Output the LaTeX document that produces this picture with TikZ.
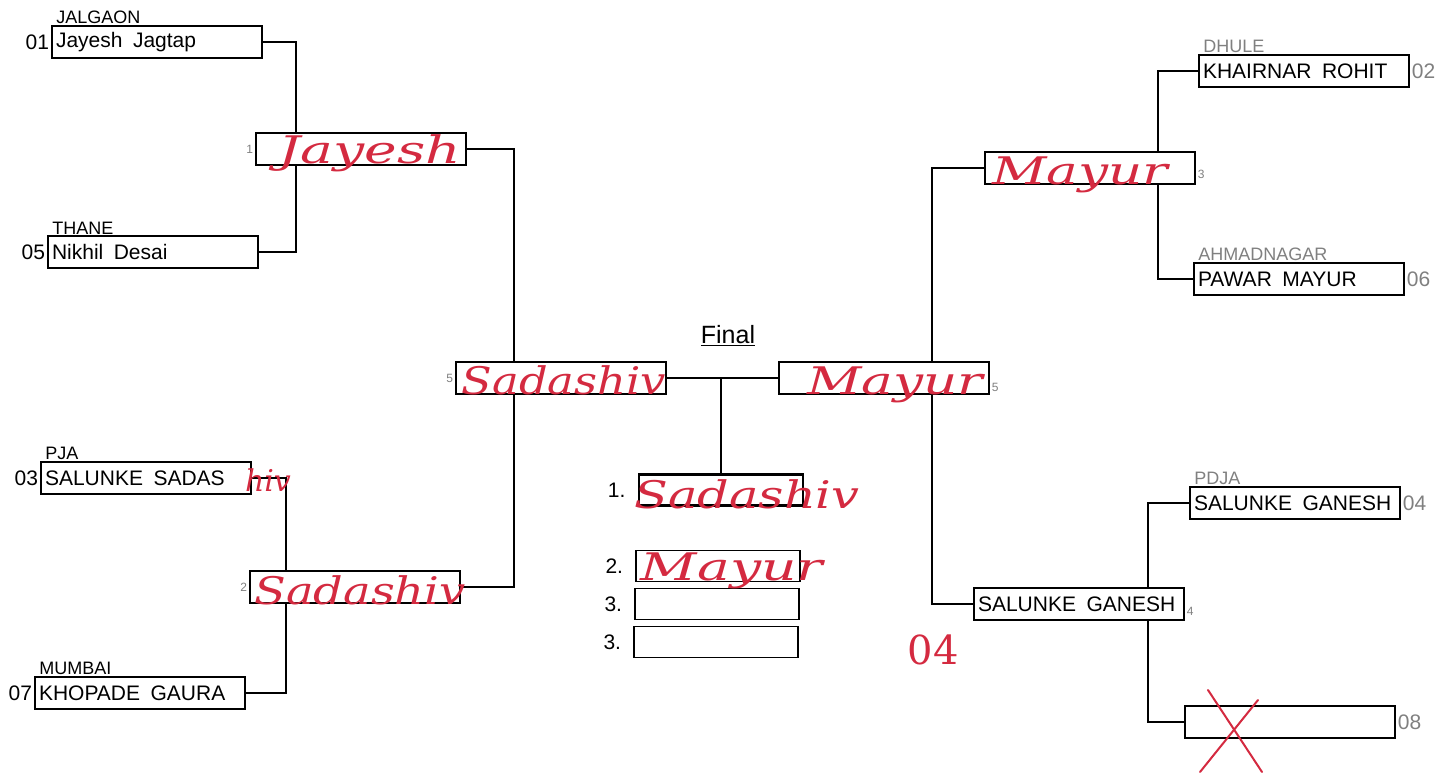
\documentclass[tikz,border=0pt]{standalone}
\usepackage{fontspec}
\usepackage{graphicx}
\setmainfont{Liberation Sans}
\newfontfamily\handfont{DejaVu Serif}
\usetikzlibrary{positioning,backgrounds}
\definecolor{pen}{RGB}{212,42,64}
\definecolor{faint}{gray}{0.5}

\tikzset{
  entry/.style={draw, fill=white, line width=1.5pt, text width=202pt, inner xsep=4pt,
    inner ysep=0pt, minimum height=32pt, align=left, font=\fontsize{21}{22}\selectfont},
  slot/.style={draw, fill=white, line width=1.5pt, minimum width=164pt, minimum height=31pt, inner sep=0pt},
  conn/.style={line width=2.8pt},
  city/.style={anchor=south west, inner sep=1pt, xshift=4pt, font=\fontsize{18}{18}\selectfont},
  seed/.style={inner sep=2pt, font=\fontsize{21}{21}\selectfont},
  rnd/.style={inner sep=2pt, text=faint, font=\fontsize{12}{12}\selectfont},
  hand/.style={inner sep=0pt, text=pen, font=\handfont\itshape\fontsize{38}{38}\selectfont}
}

\begin{document}
\begin{tikzpicture}[x=1pt, y=-1pt]
  \useasboundingbox (0,0) rectangle (1447,775);

  % left half, first round
  \foreach \id/\cx/\cy/\who/\town in {01/157/42/Jayesh\enspace Jagtap/JALGAON,
      05/153/252/Nikhil\enspace Desai/THANE, 03/146/478/SALUNKE\enspace SADAS/PJA,
      07/140/693/KHOPADE\enspace GAURA/MUMBAI} {
    \node[entry] (p\id) at (\cx,\cy) {\who};
    \node[seed, left] (n\id) at (p\id.west) {\id};
    \node[city] (c\id) at (p\id.north west) {\town};
  }

  % right half, first round
  \foreach \id/\cx/\cy/\who/\town in {02/1304/71/KHAIRNAR\enspace ROHIT/DHULE,
      06/1299/279/PAWAR\enspace MAYUR/AHMADNAGAR, 04/1295/503/SALUNKE\enspace GANESH/PDJA} {
    \node[entry] (p\id) at (\cx,\cy) {\who};
    \node[seed, right, text=faint] (n\id) at (p\id.east) {\id};
    \node[city, text=faint] (c\id) at (p\id.north west) {\town};
  }
  \node[entry] (p08) at (1290,722) {};
  \node[seed, right, text=faint] (n08) at (p08.east) {08};

  % second round
  \node[entry] (w1) at (361,149) {};
  \node[entry] (w2) at (355,587) {};
  \node[entry] (w3) at (1090,168) {};
  \node[entry] (w4) at (1079,604) {SALUNKE\enspace GANESH};
  \node[rnd, left] (r1) at (w1.west) {1};
  \node[rnd, left] (r2) at (w2.west) {2};
  \node[rnd, right] (r3) at ([yshift=-6pt]w3.east) {3};
  \node[rnd, right] (r4) at ([yshift=-7pt]w4.east) {4};

  % semi finals
  \node[entry] (sfl) at (561,378) {};
  \node[entry] (sfr) at (884,378) {};
  \node[rnd, left] (r5l) at (sfl.west) {5};
  \node[rnd, right] (r5r) at ([yshift=-9pt]sfr.east) {5};

  % final and places
  \node[font=\fontsize{25}{25}\selectfont] (final) at (728,336) {\underline{Final}};
  \node[slot, line width=2.8pt] (f1) at (721,490) {};
  \node[slot] (f2) at (718,566) {};
  \node[slot] (f3) at (717,604) {};
  \node[slot] (f4) at (716,642) {};
  \foreach \f/\t in {f1/1., f2/2., f3/3., f4/3.}
    \node[seed, left=10pt of \f] (l\f) {\t};

  % bracket lines
  \begin{scope}[on background layer]
    \coordinate (spa) at (296,0);
    \coordinate (spb) at (286,0);
    \coordinate (spc) at (514,0);
    \coordinate (spd) at (932,0);
    \coordinate (spe) at (1158,0);
    \coordinate (spf) at (1148,0);
    \draw[conn] (p01.east) -- (p01.east -| spa) -- (p05.east -| spa) -- (p05.east);
    \draw[conn] (p03.east) -- (p03.east -| spb) -- (p07.east -| spb) -- (p07.east);
    \draw[conn] (w1.east) -- (w1.east -| spc) -- (w2.east -| spc) -- (w2.east);
    \draw[conn] (sfl.east) -- (sfr.west);
    \draw[conn] (sfl.east -| f1.north) -- (f1.north);
    \draw[conn] (w3.west) -- (w3.west -| spd) -- (w4.west -| spd) -- (w4.west);
    \draw[conn] (p02.west) -- (p02.west -| spe) -- (p06.west -| spe) -- (p06.west);
    \draw[conn] (p04.west) -- (p04.west -| spf) -- (p08.west -| spf) -- (p08.west);
  \end{scope}

  % handwritten results
  \node[hand] (h1) at (370,153) {\scalebox{1.45}[1]{Jayesh}};
  \node[hand] (h2) at (360,590) {\scalebox{1.22}[1]{Sadashiv}};
  \node[hand, font=\handfont\itshape\fontsize{30}{30}\selectfont] (h3) at (268,480) {hiv};
  \node[hand] (h4) at (564,380) {\scalebox{1.18}[1]{Sadashiv}};
  \node[hand] (h5) at (895,385) {\scalebox{1.4}[1]{Mayur}};
  \node[hand] (h6) at (1080,175) {\scalebox{1.4}[1]{Mayur}};
  \node[hand] (h7) at (747,494) {\scalebox{1.3}[1]{Sadashiv}};
  \node[hand] (h8) at (732,571) {\scalebox{1.45}[1]{Mayur}};
  \node[hand, font=\handfont\fontsize{40}{40}\selectfont] (h9) at (933,650) {04};
  \draw[pen, line width=2pt, line cap=round] (1208,690) -- (1262,772) (1258,700) -- (1200,772);
\end{tikzpicture}
\end{document}
